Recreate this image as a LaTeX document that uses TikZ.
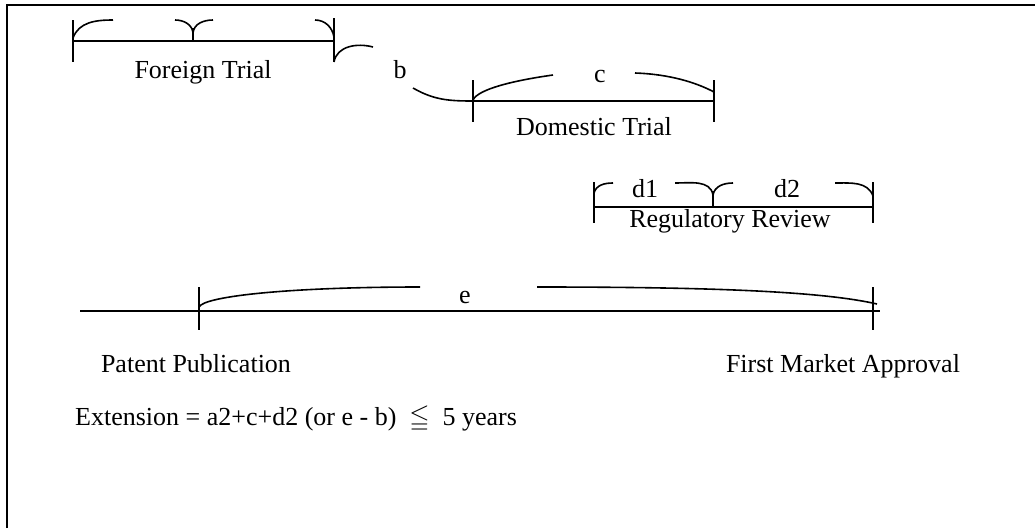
\documentclass[tikz,border=0pt]{standalone}
\usepackage{fontspec}
\setmainfont{Liberation Serif}
\usepackage{amssymb}
\usetikzlibrary{positioning}

\begin{document}
\begin{tikzpicture}[x=1pt, y=-1pt,
  bar/.style={line width=1.6pt},
  brace/.style={line width=1.6pt},
  lbl/.style={font=\fontsize{26}{31}\selectfont, anchor=base, inner sep=0pt},
]
\useasboundingbox (0,0) rectangle (1035,528);
% Frame
\draw[line width=2.4pt] (7,528) -- (7,5) -- (1035,5);

% Foreign Trial
\coordinate (ft0) at (73,41);
\coordinate (ft1) at (193,41);
\coordinate (ft2) at (334,41);
\draw[bar] (ft0) -- (ft2);
\draw[bar] (ft0) ++(0,-21) -- ++(0,42);
\draw[bar] (ft1) ++(0,-13) -- ++(0,13);
\draw[bar] (ft2) ++(0,-23) -- ++(0,44);
\draw[brace] (73,38) to[out=70,in=180] (113,20);
\draw[brace] (175,20) to[out=0,in=95] (193,33) to[out=85,in=180] (213,20);
\draw[brace] (315,20) to[out=0,in=100] (334,37);
\node[lbl] (ft) at (203,78) {Foreign Trial};

% Gap b
\draw[brace] (334,62) to[out=80,in=165] (373,47);
\node[lbl] (b) at (400,78) {b};
\draw[brace] (413,88) to[out=-30,in=180] (473,101);

% Domestic Trial
\coordinate (dt0) at (473,101);
\coordinate (dt1) at (714,101);
\draw[bar] (dt0) -- (dt1);
\draw[bar] (dt0) ++(0,-21) -- ++(0,42);
\draw[bar] (dt1) ++(0,-21) -- ++(0,42);
\draw[brace] (473,100) to[out=65,in=188,out distance=12pt,in distance=40pt] (553,75);
\node[lbl] (c) at (600,82) {c};
\draw[brace] (635,73) to[out=-2,in=152,out distance=35pt,in distance=20pt] (714,92);
\node[lbl] (dt) at (594,135) {Domestic Trial};

% Regulatory Review
\coordinate (rr0) at (594,207);
\coordinate (rr1) at (713,207);
\coordinate (rr2) at (873,207);
\draw[bar] (rr0) -- (rr2);
\draw[bar] (rr0) ++(0,-25) -- ++(0,41);
\draw[bar] (rr1) ++(0,-16) -- ++(0,16);
\draw[bar] (rr2) ++(0,-25) -- ++(0,41);
\draw[brace] (594,193) to[out=75,in=180] (613,183);
\node[lbl] (d1) at (645,197) {d1};
\draw[brace] (675,183) to[out=0,in=100] (713,195) to[out=80,in=180] (733,183);
\node[lbl] (d2) at (787,197) {d2};
\draw[brace] (835,183) to[out=0,in=110] (873,196);
\node[lbl] (rr) at (730,227) {Regulatory Review};

% Patent term
\coordinate (tl0) at (80,311);
\coordinate (tl1) at (880,311);
\coordinate (pp0) at (199,311);
\coordinate (fa0) at (873,311);
\draw[bar] (tl0) -- (tl1);
\draw[bar] (pp0) ++(0,-24) -- ++(0,43);
\draw[bar] (fa0) ++(0,-24) -- ++(0,43);
\draw[brace] (199,307) to[out=65,in=180,out distance=12pt,in distance=130pt] (420,287);
\node[lbl] (e) at (465,303) {e};
\draw[brace] (537,287) to[out=0,in=167,out distance=160pt,in distance=60pt] (877,304);

\node[lbl] (pp) at (196,372) {Patent Publication};
\node[lbl] (fa) at (843,372) {First Market Approval};
\node[lbl, anchor=base west] (ext) at (75,425) {Extension = a2+c+d2 (or e - b) \ $\leqq$ \ 5 years};
\end{tikzpicture}
\end{document}
